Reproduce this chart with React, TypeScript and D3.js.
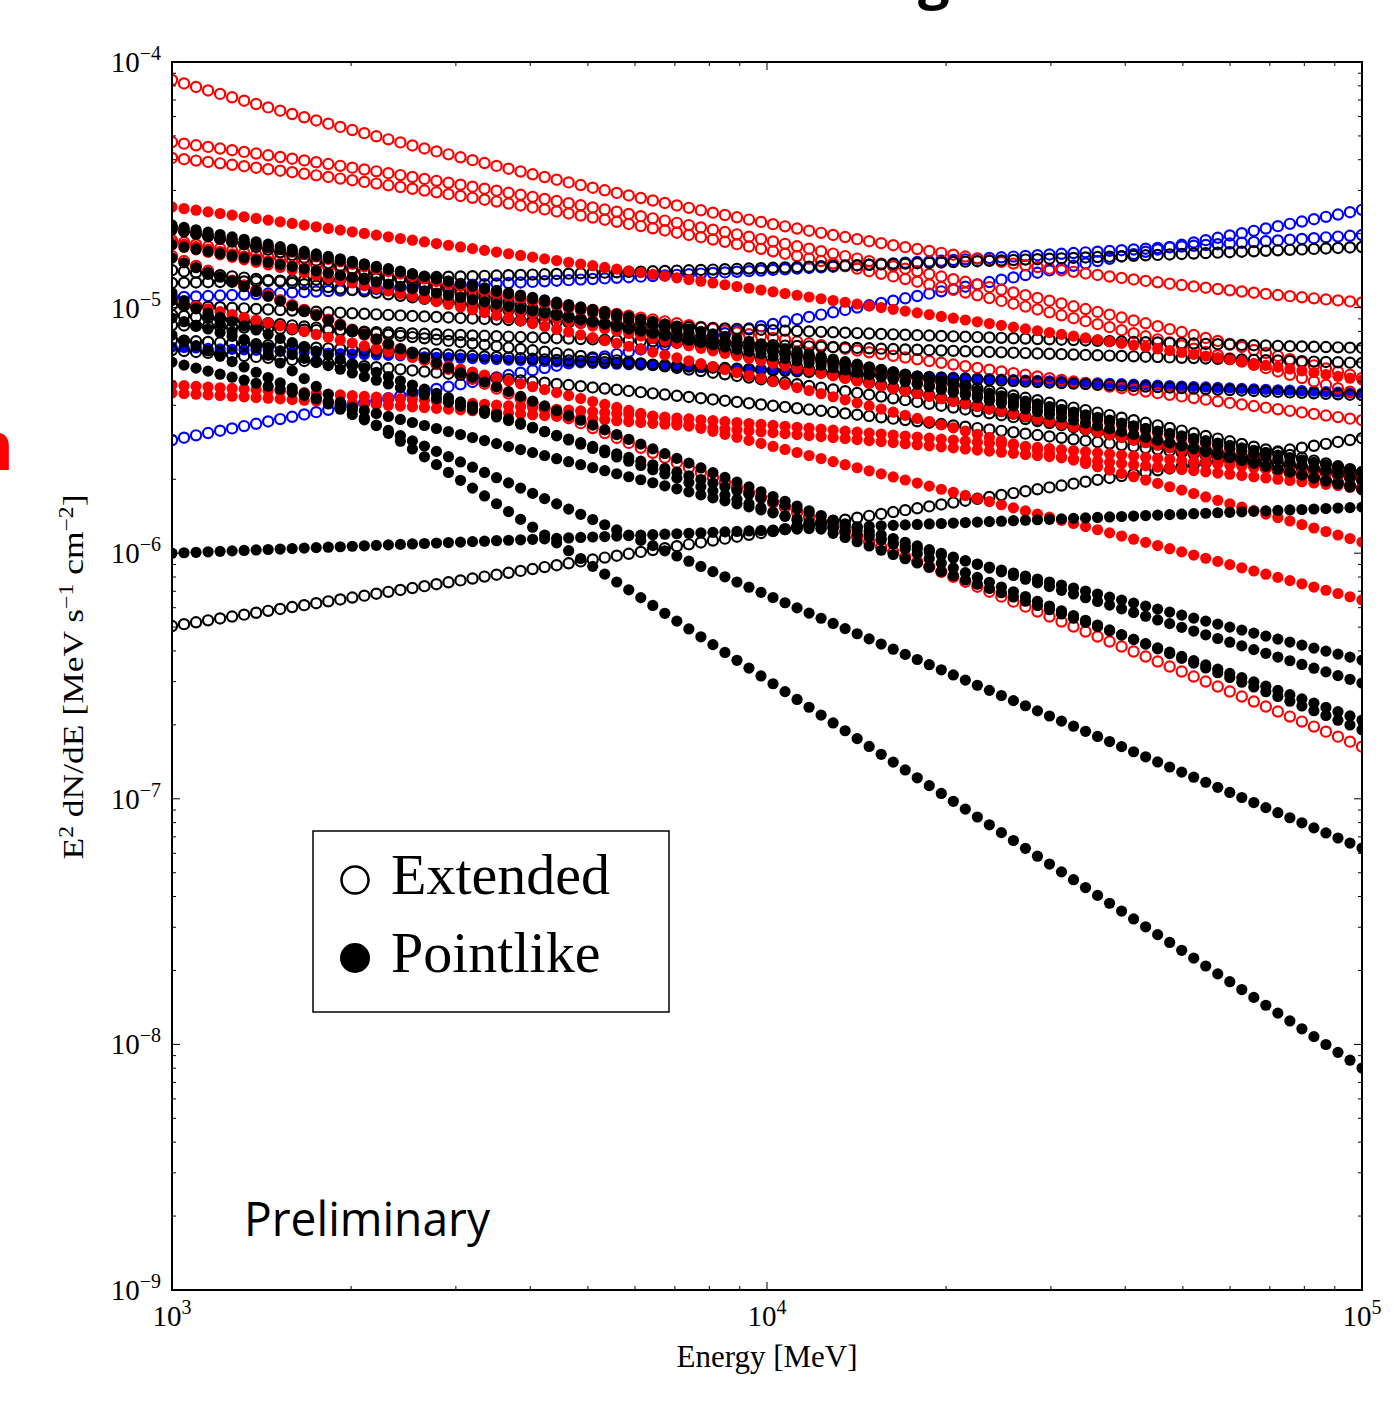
import * as d3 from 'd3';
import { useEffect, useRef } from 'react';

const W = 1394;
const H = 1415;
const margin = { top: 62, left: 172, right: 32, bottom: 125 };

const srcColor = [
  'blue', 'blue', 'blue',
  'red', 'red', 'red', 'red', 'red',
  'black', 'black', 'black', 'black', 'black', 'black', 'black', 'black', 'black',
  'red', 'red', 'red', 'red', 'red', 'red', 'red',
  'black', 'black', 'black', 'black', 'black', 'black', 'black', 'black', 'black', 'black',
];
const srcExtended = [
  true, true, false,
  true, true, true, true, true,
  true, true, true, true, true, true, true, true, true,
  false, false, false, false, false, false, false,
  false, false, false, false, false, false, false, false, false, false,
];
const fluxAt1GeV = [
  2.89e-6, 1.1e-5, 6.91e-6,
  8.45e-5, 4.72e-5, 4.07e-5, 1.88e-5, 1.62e-5,
  1.26e-5, 5.05e-7, 1.025e-5, 8.49e-6, 7.38e-6, 6.72e-6, 2.11e-5, 1.42e-5, 9.33e-6,
  2.57e-5, 2.11e-5, 1.85e-5, 4.84e-6, 4.49e-6, 1.07e-5, 1.8e-5,
  1.15e-5, 7.73e-6, 1.0e-6, 1.59e-5, 1.07e-5, 9.07e-6, 6.0e-6, 2.07e-5, 2.17e-5, 1.8e-5,
];
const fluxAt10GeV = [
  8.49e-6, 1.42e-5, 5.57e-6,
  2.21e-5, 1.88e-5, 1.715e-5, 7.59e-6, 1.65e-6,
  1.45e-5, 1.22e-6, 8.11e-6, 7.04e-6, 5.57e-6, 4.01e-6, 6.11e-6, 6.72e-6, 5.07e-6,
  1.17e-5, 6.72e-6, 6.0e-6, 3.33e-6, 3.11e-6, 2.76e-6, 5.07e-6,
  3.05e-7, 6.76e-7, 1.24e-6, 1.74e-6, 1.5e-6, 1.65e-6, 1.48e-6, 7.04e-6, 6.72e-6, 6.41e-6,
];
const fluxAt100GeV = [
  2.5e-5, 1.975e-5, 4.49e-6,
  1.05e-5, 5.17e-6, 4.4e-6, 3.48e-6, 1.63e-7,
  1.765e-5, 2.94e-6, 6.85e-6, 5.95e-6, 4.4e-6, 2.08e-6, 1.84e-6, 2.14e-6, 1.99e-6,
  5.07e-6, 2.02e-6, 1.81e-6, 2.02e-6, 1.84e-6, 6.45e-7, 1.11e-6,
  8.01e-9, 6.3e-8, 1.54e-6, 1.91e-7, 2.09e-7, 2.96e-7, 3.67e-7, 1.99e-6, 1.81e-6, 2.14e-6,
];

const energyTicks = [1e3, 1e4, 1e5];
const fluxTicks = [1e-9, 1e-8, 1e-7, 1e-6, 1e-5, 1e-4];
const legendLabels = ['Extended', 'Pointlike'];
const nPoints = 100;

const colorOf = (c: string) => (c === 'red' ? '#ff0000' : c === 'blue' ? '#0000ff' : '#000000');

// smooth curve in log-log through the three read values
const spectrum = (i: number) => {
  const l = Math.log10(fluxAt1GeV[i]);
  const m = Math.log10(fluxAt10GeV[i]);
  const r = Math.log10(fluxAt100GeV[i]);
  return (e: number) => {
    const u = Math.log10(e) - 4;
    return 10 ** (m + ((r - l) / 2) * u + ((r + l - 2 * m) / 2) * u * u);
  };
};

const App = () => {
  const ref = useRef<SVGSVGElement>(null);

  useEffect(() => {
    const svg = d3.select(ref.current);
    svg.selectAll('*').remove();

    const x0 = margin.left;
    const x1 = W - margin.right;
    const y0 = margin.top;
    const y1 = H - margin.bottom;

    const x = d3.scaleLog().domain([1e3, 1e5]).range([x0, x1]);
    const y = d3.scaleLog().domain([1e-9, 1e-4]).range([y1, y0]);

    svg.append('rect').attr('width', W).attr('height', H).attr('fill', '#fff');

    svg
      .append('defs')
      .append('clipPath')
      .attr('id', 'plot-clip')
      .append('rect')
      .attr('x', x0)
      .attr('y', y0)
      .attr('width', x1 - x0)
      .attr('height', y1 - y0);

    const energies = d3.range(nPoints).map((i) => 10 ** (3 + (2 * i) / (nPoints - 1)));

    const plot = svg.append('g').attr('clip-path', 'url(#plot-clip)');
    srcColor.forEach((c, i) => {
      const f = spectrum(i);
      const col = colorOf(c);
      const ext = srcExtended[i];
      plot
        .append('g')
        .selectAll('circle')
        .data(energies)
        .enter()
        .append('circle')
        .attr('cx', (e) => x(e))
        .attr('cy', (e) => y(f(e)))
        .attr('r', ext ? 5.1 : 5.6)
        .attr('fill', ext ? 'none' : col)
        .attr('stroke', ext ? col : 'none')
        .attr('stroke-width', 2.2);
    });

    // ticks on all four sides, pointing inwards
    const ticks = svg.append('g').attr('stroke', '#000').attr('stroke-width', 1);
    const isMajor = (v: number) => Math.abs(Math.log10(v) - Math.round(Math.log10(v))) < 1e-6;
    x.ticks().forEach((v) => {
      const len = isMajor(v) ? 8 : 4;
      const px = x(v);
      ticks.append('line').attr('x1', px).attr('x2', px).attr('y1', y1).attr('y2', y1 - len);
      ticks.append('line').attr('x1', px).attr('x2', px).attr('y1', y0).attr('y2', y0 + len);
    });
    y.ticks().forEach((v) => {
      const len = isMajor(v) ? 8 : 4;
      const py = y(v);
      ticks.append('line').attr('x1', x0).attr('x2', x0 + len).attr('y1', py).attr('y2', py);
      ticks.append('line').attr('x1', x1).attr('x2', x1 - len).attr('y1', py).attr('y2', py);
    });

    svg
      .append('rect')
      .attr('x', x0)
      .attr('y', y0)
      .attr('width', x1 - x0)
      .attr('height', y1 - y0)
      .attr('fill', 'none')
      .attr('stroke', '#000')
      .attr('stroke-width', 2);

    const serif = '"Liberation Serif", "DejaVu Serif", serif';

    energyTicks.forEach((v) => {
      const t = svg
        .append('text')
        .attr('x', x(v))
        .attr('y', y1 + 36)
        .attr('text-anchor', 'middle')
        .attr('font-family', serif)
        .attr('font-size', 29)
        .attr('fill', '#000');
      t.append('tspan').text('10');
      t.append('tspan').attr('dy', -12).attr('font-size', 20).text(String(Math.round(Math.log10(v))));
    });

    fluxTicks.forEach((v) => {
      const t = svg
        .append('text')
        .attr('x', x0 - 11)
        .attr('y', y(v) + 10)
        .attr('text-anchor', 'end')
        .attr('font-family', serif)
        .attr('font-size', 29)
        .attr('fill', '#000');
      t.append('tspan').text('10');
      t.append('tspan')
        .attr('dy', -12)
        .attr('font-size', 20)
        .text('\u2212' + Math.abs(Math.round(Math.log10(v))));
    });

    svg
      .append('text')
      .attr('x', (x0 + x1) / 2)
      .attr('y', y1 + 77)
      .attr('text-anchor', 'middle')
      .attr('font-family', serif)
      .attr('font-size', 31)
      .text('Energy [MeV]');

    const yl = svg
      .append('text')
      .attr('transform', 'translate(83, 677) rotate(-90)')
      .attr('text-anchor', 'middle')
      .attr('font-family', serif)
      .attr('font-size', 30)
      .attr('textLength', 365)
      .attr('lengthAdjust', 'spacingAndGlyphs');
    yl.append('tspan').text('E');
    yl.append('tspan').attr('dy', -10).attr('font-size', 20).text('2');
    yl.append('tspan').attr('dy', 10).text(' dN/dE [MeV s');
    yl.append('tspan').attr('dy', -10).attr('font-size', 20).text('\u22121');
    yl.append('tspan').attr('dy', 10).text(' cm');
    yl.append('tspan').attr('dy', -10).attr('font-size', 20).text('\u22122');
    yl.append('tspan').attr('dy', 10).text(']');

    // legend
    const lg = svg.append('g');
    lg.append('rect')
      .attr('x', 313)
      .attr('y', 831)
      .attr('width', 356)
      .attr('height', 181)
      .attr('fill', '#fff')
      .attr('stroke', '#000')
      .attr('stroke-width', 1.5);
    legendLabels.forEach((label, i) => {
      const cy = 880 + i * 78;
      lg.append('circle')
        .attr('cx', 355)
        .attr('cy', cy)
        .attr('r', i === 0 ? 13.5 : 15)
        .attr('fill', i === 0 ? 'none' : '#000')
        .attr('stroke', '#000')
        .attr('stroke-width', i === 0 ? 2.5 : 0);
      lg.append('text')
        .attr('x', 391)
        .attr('y', cy + 14)
        .attr('font-family', serif)
        .attr('font-size', 58)
        .text(label);
    });

    svg
      .append('text')
      .attr('x', 244)
      .attr('y', 1236)
      .attr('font-family', '"Open Sans", Lato, sans-serif')
      .attr('font-size', 47)
      .attr('textLength', 246)
      .attr('lengthAdjust', 'spacingAndGlyphs')
      .text('Preliminary');

    // fragments of slide text cut off at the edges, as in the source slide
    svg
      .append('text')
      .attr('x', 14)
      .attr('y', 470)
      .attr('text-anchor', 'end')
      .attr('font-family', '"Open Sans", sans-serif')
      .attr('font-weight', 'bold')
      .attr('font-size', 68)
      .attr('fill', '#ff0000')
      .text('n');
    svg
      .append('text')
      .attr('x', 918)
      .attr('y', -2)
      .attr('font-family', '"Open Sans", sans-serif')
      .attr('font-weight', 'bold')
      .attr('font-size', 56)
      .attr('fill', '#000')
      .text('g');
  }, []);

  return (
    <svg
      ref={ref}
      width={W}
      height={H}
      style={{ position: 'absolute', left: 0, top: 0 }}
    />
  );
};

export default App;
